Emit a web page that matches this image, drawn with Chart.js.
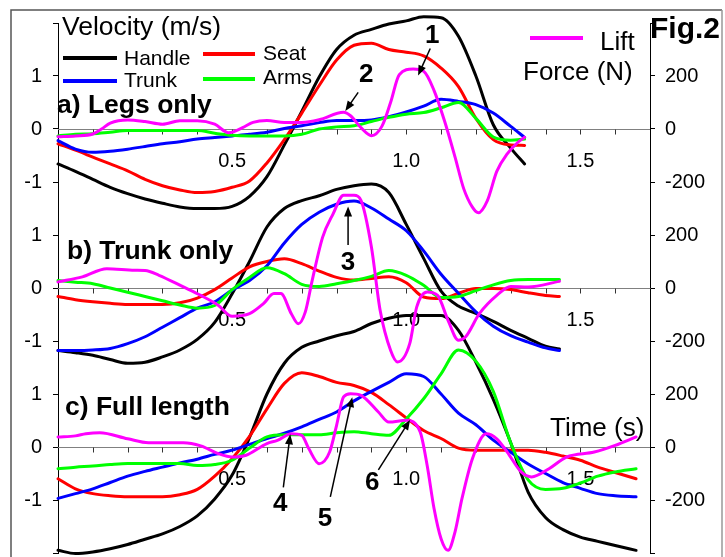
<!DOCTYPE html>
<html>
<head>
<meta charset="utf-8">
<script src="https://cdn.jsdelivr.net/npm/chart.js@4.4.1/dist/chart.umd.min.js"></script>
<style>
  html, body { margin: 0; padding: 0; background: #fff; }
  #wrap { width: 725px; height: 557px; }
</style>
</head>
<body>
<div id="wrap"><canvas id="fig" width="725" height="557"></canvas></div>
<script>
// a) Legs only
const timeA = [0, 0.05, 0.1, 0.15, 0.2, 0.25, 0.3, 0.35, 0.4, 0.45, 0.5, 0.55, 0.6, 0.65, 0.7, 0.75, 0.8, 0.85, 0.9, 0.95, 1.0, 1.05, 1.1, 1.15, 1.2, 1.25, 1.3, 1.34];
const handleA = [-0.66, -0.8, -0.95, -1.1, -1.22, -1.32, -1.4, -1.47, -1.5, -1.5, -1.46, -1.27, -0.9, -0.3, 0.33, 0.98, 1.5, 1.77, 1.88, 1.98, 2.04, 2.12, 2.1, 1.75, 1.0, 0.08, -0.36, -0.66];
const seatA = [-0.28, -0.4, -0.53, -0.66, -0.79, -0.95, -1.07, -1.15, -1.2, -1.18, -1.1, -0.98, -0.64, -0.2, 0.3, 0.82, 1.3, 1.58, 1.62, 1.5, 1.45, 1.38, 1.15, 0.8, 0.2, -0.2, -0.3, -0.31];
const trunkA = [-0.22, -0.38, -0.44, -0.42, -0.38, -0.33, -0.28, -0.24, -0.19, -0.16, -0.13, -0.1, -0.06, 0.01, 0.06, 0.12, 0.16, 0.16, 0.17, 0.23, 0.32, 0.43, 0.56, 0.52, 0.46, 0.3, 0.05, -0.16];
const armsA = [-0.13, -0.1, -0.09, -0.06, -0.03, -0.03, -0.03, -0.03, -0.03, -0.08, -0.12, -0.13, -0.13, -0.13, -0.1, 0.0, 0.04, 0.06, 0.14, 0.22, 0.28, 0.31, 0.4, 0.5, 0.2, -0.15, -0.21, -0.19];
const liftTimeA = [0, 0.05, 0.1, 0.125, 0.15, 0.2, 0.25, 0.3, 0.35, 0.4, 0.45, 0.49, 0.53, 0.56, 0.6, 0.65, 0.7, 0.75, 0.82, 0.84, 0.87, 0.9, 0.93, 0.955, 0.98, 1.02, 1.05, 1.08, 1.11, 1.14, 1.165, 1.19, 1.207, 1.233, 1.26, 1.29, 1.32, 1.34];
const liftA = [-29, -26, -19, 0, 22, 34, 28, 18, 31, 31, 18, -14, 5, 25, 32, 25, 25, 35, 63, 50, 5, -25, 10, 100, 205, 226, 218, 145, 30, -105, -225, -295, -316, -270, -160, -94, -51, -31];

// b) Trunk only
const timeB = [0, 0.05, 0.1, 0.15, 0.2, 0.25, 0.3, 0.35, 0.4, 0.45, 0.5, 0.55, 0.6, 0.65, 0.7, 0.75, 0.8, 0.85, 0.9, 0.95, 1.0, 1.05, 1.1, 1.15, 1.2, 1.25, 1.3, 1.35, 1.4, 1.44];
const handleB = [-1.18, -1.22, -1.27, -1.35, -1.42, -1.4, -1.3, -1.17, -0.97, -0.65, -0.11, 0.5, 1.15, 1.5, 1.65, 1.74, 1.86, 1.93, 1.96, 1.8, 1.2, 0.56, -0.06, -0.34, -0.48, -0.63, -0.8, -0.95, -1.1, -1.15];
const seatB = [-0.16, -0.22, -0.26, -0.29, -0.31, -0.31, -0.31, -0.28, -0.19, -0.03, 0.19, 0.4, 0.5, 0.55, 0.46, 0.32, 0.2, 0.15, 0.18, 0.21, 0.1, -0.17, -0.2, -0.1, -0.01, -0.01, -0.03, -0.09, -0.14, -0.16];
const trunkB = [-1.18, -1.18, -1.17, -1.14, -1.05, -0.92, -0.74, -0.56, -0.38, -0.26, -0.04, 0.14, 0.42, 0.85, 1.2, 1.43, 1.58, 1.64, 1.51, 1.3, 1.08, 0.7, 0.26, -0.1, -0.45, -0.72, -0.9, -1.02, -1.13, -1.18];
const armsB = [0.14, 0.11, 0.08, 0.0, -0.08, -0.16, -0.24, -0.32, -0.38, -0.33, -0.03, 0.2, 0.38, 0.27, 0.07, 0.03, 0.08, 0.14, 0.22, 0.33, 0.24, 0.05, -0.18, -0.16, -0.05, 0.06, 0.14, 0.16, 0.16, 0.16];
const liftTimeB = [0, 0.07, 0.14, 0.22, 0.25, 0.29, 0.36, 0.41, 0.46, 0.5, 0.55, 0.59, 0.62, 0.64, 0.67, 0.69, 0.71, 0.73, 0.76, 0.79, 0.82, 0.85, 0.87, 0.9, 0.925, 0.955, 0.975, 1.01, 1.03, 1.06, 1.09, 1.12, 1.15, 1.17, 1.21, 1.26, 1.3, 1.35, 1.44];
const liftB = [23, 42, 73, 67, 66, 48, 4, -28, -65, -107, -97, -59, -21, -21, -97, -135, -91, 29, 192, 280, 350, 350, 331, 155, -84, -235, -279, -210, -72, -15, -28, -122, -197, -185, -97, -28, 6, 4, 25];

// c) Full length
const timeC = [0, 0.05, 0.1, 0.15, 0.2, 0.25, 0.3, 0.35, 0.4, 0.45, 0.5, 0.55, 0.6, 0.65, 0.7, 0.75, 0.8, 0.85, 0.9, 0.95, 1.0, 1.05, 1.1, 1.15, 1.2, 1.25, 1.3, 1.35, 1.4, 1.45, 1.5, 1.55, 1.6, 1.66];
const handleC = [-1.95, -2.01, -1.98, -1.92, -1.84, -1.74, -1.64, -1.5, -1.3, -0.98, -0.53, 0.18, 1.0, 1.58, 1.88, 2.0, 2.1, 2.18, 2.33, 2.43, 2.48, 2.48, 2.48, 2.2, 1.6, 0.9, 0.08, -0.85, -1.33, -1.56, -1.7, -1.78, -1.86, -1.95];
const seatC = [-0.6, -0.79, -0.88, -0.92, -0.94, -0.94, -0.94, -0.9, -0.8, -0.55, -0.22, 0.2, 0.72, 1.2, 1.4, 1.33, 1.22, 1.16, 1.03, 0.8, 0.55, 0.31, 0.16, -0.02, -0.06, -0.06, -0.06, -0.06, -0.1, -0.17, -0.25, -0.38, -0.48, -0.6];
const trunkC = [-0.97, -0.88, -0.79, -0.67, -0.55, -0.46, -0.38, -0.3, -0.23, -0.14, -0.06, 0.05, 0.16, 0.26, 0.38, 0.52, 0.66, 0.87, 1.05, 1.22, 1.38, 1.33, 1.0, 0.64, 0.42, 0.13, -0.1, -0.32, -0.5, -0.67, -0.78, -0.88, -0.92, -0.94];
const armsC = [-0.41, -0.38, -0.36, -0.33, -0.31, -0.31, -0.31, -0.31, -0.35, -0.33, -0.25, -0.02, 0.19, 0.23, 0.23, 0.23, 0.27, 0.29, 0.25, 0.22, 0.53, 0.91, 1.38, 1.83, 1.62, 1.05, 0.08, -0.62, -0.8, -0.78, -0.68, -0.55, -0.47, -0.41];
const liftTimeC = [0, 0.05, 0.08, 0.12, 0.2, 0.26, 0.36, 0.41, 0.46, 0.5, 0.54, 0.6, 0.63, 0.67, 0.7, 0.72, 0.75, 0.78, 0.8, 0.82, 0.84, 0.87, 0.92, 0.95, 1.0, 1.04, 1.06, 1.08, 1.1, 1.12, 1.14, 1.16, 1.19, 1.23, 1.26, 1.29, 1.33, 1.36, 1.41, 1.46, 1.54, 1.6, 1.66];
const liftC = [38, 42, 50, 54, 31, 16, 16, 4, -25, -38, -31, 13, 25, 50, 44, -6, -63, -19, 82, 189, 201, 195, 132, 94, 101, 57, -69, -233, -346, -390, -321, -195, -44, 50, 31, -19, -94, -113, -82, -38, -19, 6, 38];

// time axis ticks drawn on every panel's zero line
const timeTicks = [0.1, 0.2, 0.3, 0.4, 0.5, 0.6, 0.7, 0.8, 0.9, 1.0, 1.1, 1.2, 1.3, 1.4, 1.5, 1.6];
const timeLabels = [0.5, 1.0, 1.5];
const timeLabelText = ['0.5', '1.0', '1.5'];
const velTickText = ['0', '1', '-1'];
const forceTickText = ['0', '200', '-200'];

const FONT = "'Liberation Sans', Arial, sans-serif";

const panels = [
  { name: 'a', time: timeA, handle: handleA, seat: seatA, trunk: trunkA, arms: armsA, liftTime: liftTimeA, lift: liftA, v: 'vA', f: 'fA' },
  { name: 'b', time: timeB, handle: handleB, seat: seatB, trunk: trunkB, arms: armsB, liftTime: liftTimeB, lift: liftB, v: 'vB', f: 'fB' },
  { name: 'c', time: timeC, handle: handleC, seat: seatC, trunk: trunkC, arms: armsC, liftTime: liftTimeC, lift: liftC, v: 'vC', f: 'fC' }
];

function pts(ts, vs) {
  return ts.map((t, i) => ({ x: t, y: vs[i] }));
}

const datasets = [];
panels.forEach(p => {
  [['Handle', p.handle, '#000000', 4], ['Seat', p.seat, '#ff0000', 3],
   ['Trunk', p.trunk, '#0000ff', 2], ['Arms', p.arms, '#00ff00', 1]].forEach(([n, vals, col, ord]) => {
    datasets.push({ label: n + ' ' + p.name, data: pts(p.time, vals), borderColor: col, yAxisID: p.v, order: ord, clip: false });
  });
  datasets.push({ label: 'Lift ' + p.name, data: pts(p.liftTime, p.lift), borderColor: '#ff00ff', yAxisID: p.f, order: 0, clip: false });
});

// numbered arrows, placed in time / shared-velocity coordinates
const markers = [
  { n: '1', t: 1.075, v: 4.75, from: [1.069, 4.52], to: [1.034, 4.01] },
  { n: '2', t: 0.885, v: 4.03, from: [0.862, 3.69], to: [0.825, 3.34] },
  { n: '3', t: 0.833, v: 0.47, from: [0.833, 0.81], to: [0.833, 1.54] },
  { n: '4', t: 0.638, v: -4.08, from: [0.647, -3.76], to: [0.667, -2.76] },
  { n: '5', t: 0.767, v: -4.36, from: [0.782, -3.94], to: [0.845, -2.06] },
  { n: '6', t: 0.902, v: -3.68, from: [0.92, -3.43], to: [1.011, -2.49] }
];

function arrow(ctx, x1, y1, x2, y2) {
  const ang = Math.atan2(y2 - y1, x2 - x1);
  const len = 10, half = 4;
  ctx.beginPath();
  ctx.moveTo(x1, y1);
  ctx.lineTo(x2 - Math.cos(ang) * len * 0.8, y2 - Math.sin(ang) * len * 0.8);
  ctx.stroke();
  ctx.beginPath();
  ctx.moveTo(x2, y2);
  ctx.lineTo(x2 - Math.cos(ang) * len + Math.sin(ang) * half, y2 - Math.sin(ang) * len - Math.cos(ang) * half);
  ctx.lineTo(x2 - Math.cos(ang) * len - Math.sin(ang) * half, y2 - Math.sin(ang) * len + Math.cos(ang) * half);
  ctx.closePath();
  ctx.fill();
}

const decor = {
  id: 'decor',
  beforeDraw(chart) {
    const ctx = chart.ctx;
    ctx.save();
    ctx.fillStyle = '#fff';
    ctx.fillRect(0, 0, chart.width, chart.height);
    ctx.lineWidth = 1.5;
    ctx.strokeStyle = '#555';
    ctx.beginPath();
    ctx.moveTo(11, chart.height);
    ctx.lineTo(11, 10);
    ctx.lineTo(722, 10);
    ctx.stroke();
    ctx.strokeStyle = '#999';
    ctx.beginPath();
    ctx.moveTo(722, 10);
    ctx.lineTo(722, chart.height);
    ctx.stroke();
    ctx.restore();
  },
  beforeDatasetsDraw(chart) {
    const { ctx, chartArea: a, scales } = chart;
    const x = scales.x;
    ctx.save();
    ['vA', 'vB', 'vC'].forEach(id => {
      const y0 = Math.round(scales[id].getPixelForValue(0)) + 0.5;
      ctx.lineWidth = 1;
      ctx.strokeStyle = '#808080';
      ctx.beginPath();
      ctx.moveTo(a.left, y0);
      ctx.lineTo(a.right, y0);
      ctx.stroke();
      ctx.strokeStyle = '#333';
      ctx.beginPath();
      timeTicks.forEach(t => {
        const px = Math.round(x.getPixelForValue(t)) + 0.5;
        ctx.moveTo(px, y0);
        ctx.lineTo(px, y0 + 5);
      });
      ctx.stroke();
      ctx.fillStyle = '#000';
      ctx.font = '20px ' + FONT;
      ctx.textAlign = 'center';
      ctx.textBaseline = 'middle';
      timeLabels.forEach((t, i) => ctx.fillText(timeLabelText[i], x.getPixelForValue(t), y0 + 32));
    });
    ctx.restore();
  },
  afterDraw(chart) {
    const { ctx, scales } = chart;
    const x = scales.x, v = scales.vB;
    ctx.save();
    ctx.fillStyle = '#000';
    ctx.textAlign = 'left';
    ctx.textBaseline = 'alphabetic';

    ctx.font = '26.5px ' + FONT;
    ctx.fillText('Velocity (m/s)', 62, 35);
    ctx.font = '26px ' + FONT;
    ctx.fillText('Lift', 600, 50);
    ctx.fillText('Force (N)', 523, 80);
    ctx.fillText('Time (s)', 550, 436);

    ctx.font = 'bold 30px ' + FONT;
    ctx.fillText('Fig.2', 650, 38);

    ctx.font = 'bold 26.5px ' + FONT;
    ctx.fillText('a) Legs only', 57, 113);
    ctx.fillText('b) Trunk only', 67, 259);
    ctx.fillText('c) Full length', 65, 415);

    // legend
    const legend = [
      { text: 'Handle', color: '#000000', x1: 63, x2: 117, y: 58, tx: 124, ty: 65 },
      { text: 'Seat', color: '#ff0000', x1: 203, x2: 255, y: 54, tx: 263, ty: 60 },
      { text: 'Trunk', color: '#0000ff', x1: 63, x2: 117, y: 81, tx: 124, ty: 87 },
      { text: 'Arms', color: '#00ff00', x1: 203, x2: 255, y: 79, tx: 263, ty: 84 },
      { text: '', color: '#ff00ff', x1: 530, x2: 583, y: 38, tx: 0, ty: 0 }
    ];
    ctx.font = '21px ' + FONT;
    ctx.lineWidth = 4;
    legend.forEach(l => {
      ctx.strokeStyle = l.color;
      ctx.beginPath();
      ctx.moveTo(l.x1, l.y);
      ctx.lineTo(l.x2, l.y);
      ctx.stroke();
      if (l.text) ctx.fillText(l.text, l.tx, l.ty);
    });

    // numbered arrows
    ctx.strokeStyle = '#000';
    ctx.lineWidth = 1.5;
    ctx.font = 'bold 26px ' + FONT;
    ctx.textAlign = 'center';
    ctx.textBaseline = 'middle';
    markers.forEach(m => {
      ctx.fillText(m.n, x.getPixelForValue(m.t), v.getPixelForValue(m.v));
      arrow(ctx, x.getPixelForValue(m.from[0]), v.getPixelForValue(m.from[1]),
        x.getPixelForValue(m.to[0]), v.getPixelForValue(m.to[1]));
    });
    ctx.restore();
  }
};

function hiddenAxis(min, max) {
  return { type: 'linear', display: false, min: min, max: max };
}

new Chart(document.getElementById('fig'), {
  type: 'line',
  data: { datasets: datasets },
  plugins: [decor],
  options: {
    responsive: false,
    animation: false,
    layout: { padding: { left: 0, right: 0, top: 23, bottom: 4 } },
    datasets: {
      line: {
        borderWidth: 3,
        pointRadius: 0,
        fill: false,
        cubicInterpolationMode: 'monotone',
        borderJoinStyle: 'round',
        borderCapStyle: 'round'
      }
    },
    plugins: {
      legend: { display: false },
      tooltip: { enabled: false }
    },
    scales: {
      x: { type: 'linear', display: false, min: 0, max: 1.7 },
      vA: hiddenAxis(-8, 2),
      vC: hiddenAxis(-2, 8),
      fA: hiddenAxis(-1600, 400),
      fC: hiddenAxis(-400, 1600),
      vB: {
        type: 'linear',
        position: 'left',
        min: -5,
        max: 5,
        afterFit: s => { s.width = 58; s.paddingTop = 0; s.paddingBottom = 0; },
        grid: { drawOnChartArea: false, drawTicks: true, tickLength: 5, color: '#000' },
        border: { display: true, color: '#000', width: 1 },
        ticks: {
          stepSize: 1,
          padding: 11,
          color: '#000',
          font: { family: FONT, size: 20 },
          callback: val => {
            const k = Math.round(val);
            return Math.abs(k) >= 5 ? '' : velTickText[((k % 3) + 3) % 3];
          }
        }
      },
      fB: {
        type: 'linear',
        position: 'right',
        min: -1000,
        max: 1000,
        afterFit: s => { s.width = 75; s.paddingTop = 0; s.paddingBottom = 0; },
        grid: { drawOnChartArea: false, drawTicks: true, tickLength: 5, color: '#000' },
        border: { display: true, color: '#000', width: 1 },
        ticks: {
          stepSize: 200,
          padding: 10,
          color: '#000',
          font: { family: FONT, size: 20 },
          callback: val => {
            const k = Math.round(val / 200);
            return Math.abs(k) >= 5 ? '' : forceTickText[((k % 3) + 3) % 3];
          }
        }
      }
    }
  }
});
</script>
</body>
</html>
